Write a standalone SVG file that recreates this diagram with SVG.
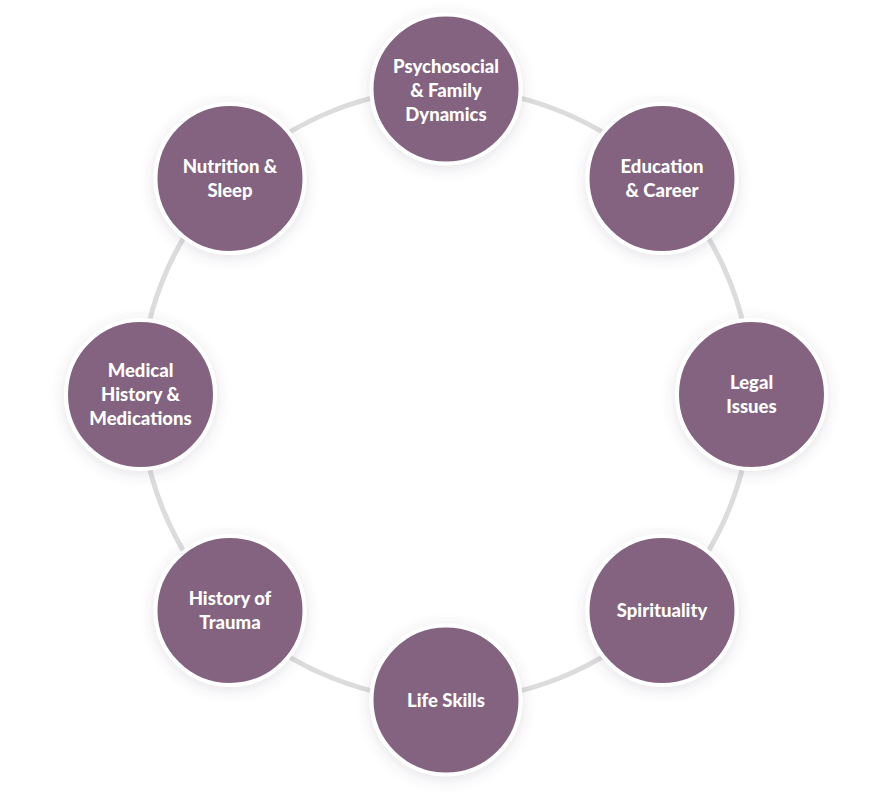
<svg xmlns="http://www.w3.org/2000/svg" width="892" height="800" viewBox="0 0 892 800">
<defs>
<filter id="sh" x="-30%" y="-30%" width="160%" height="160%">
<feDropShadow dx="0" dy="3" stdDeviation="7" flood-color="#5a4660" flood-opacity="0.16"/>
</filter>
<style>
.node circle{fill:#83647f;stroke:#ffffff;stroke-width:4;filter:url(#sh)}
.node text{fill:#ffffff;font-family:"Lato","Open Sans",sans-serif;font-weight:900;font-size:18.5px;text-anchor:middle}
.ring{fill:none;stroke:#dcdcdc;stroke-width:5}
</style>
</defs>
<rect width="892" height="800" fill="#ffffff"/>
<g id="connectors">
<circle class="ring" cx="446" cy="394.5" r="305.5"/>
</g>
<g id="psychosocial" class="node">
<circle cx="446" cy="89" r="74.5"/>
<text x="446" y="73">Psychosocial</text>
<text x="446" y="97">&amp; Family</text>
<text x="446" y="121">Dynamics</text>
</g>
<g id="education" class="node">
<circle cx="662" cy="178.5" r="74.5"/>
<text x="662" y="173">Education</text>
<text x="662" y="197">&amp; Career</text>
</g>
<g id="legal" class="node">
<circle cx="751.5" cy="394.5" r="74.5"/>
<text x="751.5" y="389">Legal</text>
<text x="751.5" y="413">Issues</text>
</g>
<g id="spirituality" class="node">
<circle cx="662" cy="610.5" r="74.5"/>
<text x="662" y="617">Spirituality</text>
</g>
<g id="lifeskills" class="node">
<circle cx="446" cy="700" r="74.5"/>
<text x="446" y="707">Life Skills</text>
</g>
<g id="trauma" class="node">
<circle cx="230" cy="610.5" r="74.5"/>
<text x="230" y="605">History of</text>
<text x="230" y="629">Trauma</text>
</g>
<g id="medical" class="node">
<circle cx="140.5" cy="394.5" r="74.5"/>
<text x="140.5" y="377">Medical</text>
<text x="140.5" y="401">History &amp;</text>
<text x="140.5" y="425">Medications</text>
</g>
<g id="nutrition" class="node">
<circle cx="230" cy="178.5" r="74.5"/>
<text x="230" y="173">Nutrition &amp;</text>
<text x="230" y="197">Sleep</text>
</g>
</svg>
